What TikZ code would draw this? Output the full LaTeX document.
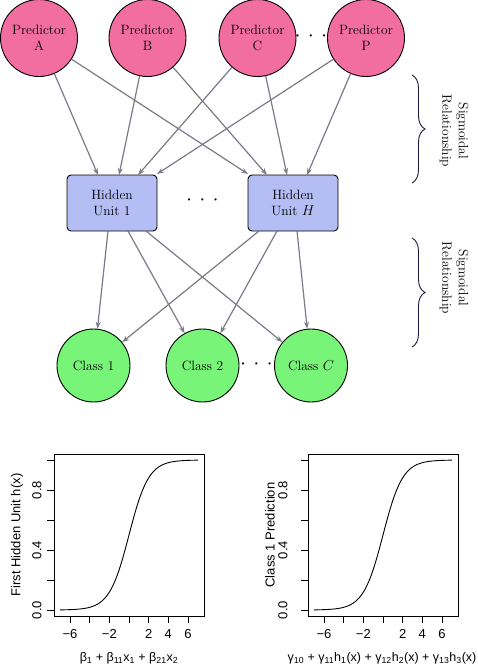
\documentclass[tikz,border=0pt]{standalone}
\usepackage{fontspec}
\newfontfamily\plotfont{Liberation Sans}
\usetikzlibrary{arrows.meta,decorations.pathreplacing}
\definecolor{predpink}{RGB}{242,110,160}
\definecolor{hidblue}{RGB}{180,190,245}
\definecolor{clsgreen}{RGB}{120,245,120}
\definecolor{edgegray}{RGB}{122,122,136}
\definecolor{bracenavy}{RGB}{25,25,60}
\newcommand{\rowdots}{{\boldmath$\cdot\hspace{5pt}\cdot\hspace{5pt}\cdot$}}

\begin{document}
\begin{tikzpicture}[x=1pt, y=-1pt,
    every node/.style={font=\fontsize{13.5}{16.5}\selectfont},
    pred/.style={circle, draw, line width=0.9pt, fill=predpink, minimum size=77pt, inner sep=0pt, align=center},
    hid/.style={rectangle, rounded corners=4pt, draw, line width=0.9pt, fill=hidblue, minimum width=90pt, minimum height=56pt, inner sep=0pt, align=center},
    cls/.style={circle, draw, line width=0.9pt, fill=clsgreen, minimum size=73pt, inner sep=0pt},
    arr/.style={draw=edgegray, line width=1.2pt, -{Stealth[length=7pt, width=5pt]}},
    brc/.style={draw=bracenavy, line width=0.9pt, decorate, decoration={brace, amplitude=13pt}},
    lbl/.style={rotate=-90, align=center},
    ax/.style={line width=0.8pt},
    tk/.style={font=\fontsize{13}{15}\plotfont}]
  \useasboundingbox (0,0) rectangle (478,665);

  % input layer
  \node[pred] (pa) at (39,38) {Predictor\\A};
  \node[pred] (pb) at (147.5,38) {Predictor\\B};
  \node[pred] (pc) at (257.5,38) {Predictor\\C};
  \node[pred] (pp) at (366,38) {Predictor\\P};
  \node (pdots) at (311,36) {\rowdots};

  % hidden layer
  \node[hid] (h1) at (112,203) {Hidden\\Unit 1};
  \node[hid] (hh) at (293,203) {Hidden\\Unit $H$};
  \node (hdots) at (202.5,200) {\rowdots};

  % output layer
  \node[cls] (c1) at (93.5,365.5) {Class 1};
  \node[cls] (c2) at (202.5,365.5) {Class 2};
  \node[cls] (cc) at (311,365.5) {Class $C$};
  \node (cdots) at (256.5,364) {\rowdots};

  % ports on the hidden units
  \coordinate (h1a) at (98,175);
  \coordinate (h1b) at (119,175);
  \coordinate (h1c) at (138,175);
  \coordinate (h1p) at (157,174);
  \coordinate (hha) at (248,174);
  \coordinate (hhb) at (267,175);
  \coordinate (hhc) at (287,175);
  \coordinate (hhp) at (307,175);
  \coordinate (h1x) at (108,231);
  \coordinate (h1y) at (128,231);
  \coordinate (h1z) at (146,231);
  \coordinate (hhx) at (259,231);
  \coordinate (hhy) at (277,231);
  \coordinate (hhz) at (297,231);

  \draw[arr] (pa) -- (h1a);
  \draw[arr] (pa) -- (hha);
  \draw[arr] (pb) -- (h1b);
  \draw[arr] (pb) -- (hhb);
  \draw[arr] (pc) -- (h1c);
  \draw[arr] (pc) -- (hhc);
  \draw[arr] (pp) -- (h1p);
  \draw[arr] (pp) -- (hhp);

  \draw[arr] (h1x) -- (c1);
  \draw[arr] (h1y) -- (c2);
  \draw[arr] (h1z) -- (cc);
  \draw[arr] (hhx) -- (c1);
  \draw[arr] (hhy) -- (c2);
  \draw[arr] (hhz) -- (cc);

  % braces
  \draw[brc] (412,75) -- (412,183);
  \draw[brc] (412,238) -- (412,347);
  \node[lbl] (sig1) at (454,131) {Sigmoidal\\Relationship};
  \node[lbl] (sig2) at (454,278) {Sigmoidal\\Relationship};

  % left plot
  \draw[ax] (54,454) rectangle (204,616);
  \foreach \k in {0,...,5}
    \draw[ax] (54,{610-30*\k}) -- ++(-7,0);
  \node[tk, rotate=90] at (37,610) {0.0};
  \node[tk, rotate=90] at (37,550) {0.4};
  \node[tk, rotate=90] at (37,490) {0.8};
  \foreach \k in {-6,-4,...,6}
    \draw[ax] ({129+9.83*\k},616) -- ++(0,7);
  \foreach \k/\t in {-6/−6,-2/−2,2/2,4/4,6/6}
    \node[tk] at ({129+9.83*\k},634) {\t};
  \draw[line width=0.9pt, domain=-7:7, samples=120, smooth] plot ({129+9.83*\x},{610-150/(1+exp(-\x))});
  \node[tk, rotate=90] at (17,535) {First Hidden Unit h(x)};
  \node[tk, font=\fontsize{12.5}{15}\plotfont] at (129,658) {β\textsubscript{1} + β\textsubscript{11}x\textsubscript{1} + β\textsubscript{21}x\textsubscript{2}};

  % right plot
  \draw[ax] (308,454) rectangle (458,616);
  \foreach \k in {0,...,5}
    \draw[ax] (308,{610-30*\k}) -- ++(-7,0);
  \node[tk, rotate=90] at (283,610) {0.0};
  \node[tk, rotate=90] at (283,550) {0.4};
  \node[tk, rotate=90] at (283,490) {0.8};
  \foreach \k in {-6,-4,...,6}
    \draw[ax] ({383+9.83*\k},616) -- ++(0,7);
  \foreach \k/\t in {-6/−6,-2/−2,2/2,4/4,6/6}
    \node[tk] at ({383+9.83*\k},634) {\t};
  \draw[line width=0.9pt, domain=-7:7, samples=120, smooth] plot ({383+9.83*\x},{610-150/(1+exp(-\x))});
  \node[tk, rotate=90] at (270,535) {Class 1 Prediction};
  \node[tk, font=\fontsize{12.5}{15}\plotfont] at (382,658) {γ\textsubscript{10} + γ\textsubscript{11}h\textsubscript{1}(x) + γ\textsubscript{12}h\textsubscript{2}(x) + γ\textsubscript{13}h\textsubscript{3}(x)};
\end{tikzpicture}
\end{document}
